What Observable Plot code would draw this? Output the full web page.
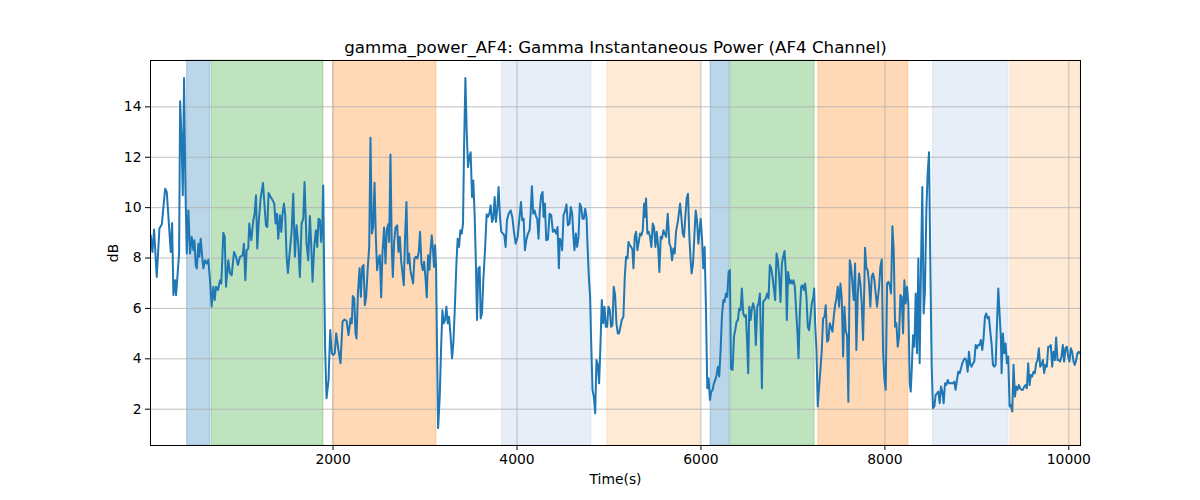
<!DOCTYPE html>
<html><head><meta charset="utf-8">
<script src="https://cdn.jsdelivr.net/npm/d3@7"></script>
<script src="https://cdn.jsdelivr.net/npm/@observablehq/plot@0.6"></script>
<style>body{margin:0;background:#fff} svg{font-family:"DejaVu Sans";}</style>
</head><body><div id="chart"></div>
<script>
const titleText = "gamma_power_AF4: Gamma Instantaneous Power (AF4 Channel)";
const xLabel = "Time(s)";
const yLabel = "dB";
const xTicks = [2000, 4000, 6000, 8000, 10000];
const yTicks = [2, 4, 6, 8, 10, 12, 14];
const xDomain = [15, 10127];
const yDomain = [0.56, 15.84];
const spanStarts = [413, 682, 2000, 3837, 4983, 6105, 6323, 7276, 8522, 9366];
const spanEnds = [667, 1896, 3124, 4809, 5993, 6312, 7236, 8255, 9345, 10127];
const spanKinds = ["blue", "green", "orange", "lightblue", "lightorange", "blue", "green", "orange", "lightblue", "lightorange"];
// [time (s), power (dB)]
const gammaSeries = [
[18,8.90],[36,8.24],[54,9.13],[83,7.25],[112,9.17],[138,9.34],[174,10.75],[192,10.62],[235,8.24],[250,9.39],[264,6.53],[282,7.12],[293,6.53],[326,8.18],[337,14.22],[351,12.93],[366,10.49],[380,15.15],[394,10.95],[409,8.18],[427,9.89],[445,8.18],[463,8.84],[481,8.31],[492,8.71],[507,7.72],[518,7.59],[536,8.57],[546,8.05],[561,8.77],[579,7.98],[590,7.59],[608,7.91],[626,7.78],[644,7.94],[662,7.12],[680,6.07],[698,6.86],[713,6.33],[727,6.86],[749,6.73],[771,7.12],[785,6.99],[807,9.0],[822,8.84],[836,6.86],[861,7.91],[879,7.39],[898,7.32],[923,8.24],[945,8.05],[966,7.72],[988,8.05],[1017,8.11],[1031,8.57],[1046,7.12],[1060,8.31],[1078,8.38],[1089,9.37],[1111,8.71],[1133,9.5],[1147,9.76],[1162,10.49],[1176,8.38],[1191,9.37],[1212,10.36],[1238,10.98],[1256,10.03],[1270,9.3],[1285,9.23],[1299,10.58],[1321,10.42],[1343,10.29],[1361,10.16],[1375,9.37],[1390,9.76],[1404,8.77],[1422,9.7],[1437,9.04],[1451,9.76],[1466,10.16],[1480,9.7],[1495,8.05],[1509,7.41],[1524,8.05],[1549,9.04],[1567,10.55],[1585,8.05],[1603,9.3],[1621,8.57],[1639,7.25],[1658,9.37],[1676,9.56],[1690,11.02],[1712,8.57],[1730,7.91],[1748,9.67],[1762,8.57],[1777,7.06],[1795,8.44],[1813,9.1],[1828,8.44],[1842,9.56],[1857,9.5],[1871,8.64],[1882,9.23],[1893,10.88],[1904,7.12],[1914,4.35],[1929,2.44],[1951,3.16],[1969,5.14],[1987,4.22],[2001,4.15],[2019,4.22],[2034,5.01],[2056,4.42],
[2081,3.82],[2103,5.47],[2125,5.56],[2147,5.51],[2168,4.94],[2190,5.60],[2204,5.41],[2215,6.49],[2230,6.40],[2244,5.01],[2255,4.81],[2270,6.59],[2288,7.59],[2302,6.46],[2317,7.65],[2331,7.72],[2346,6.13],[2360,6.46],[2378,7.65],[2393,8.44],[2407,12.77],[2422,8.97],[2436,9.23],[2451,10.99],[2465,8.84],[2479,7.52],[2494,7.98],[2508,8.11],[2523,6.44],[2537,8.18],[2555,9.21],[2570,7.78],[2584,9.10],[2599,9.34],[2610,8.64],[2624,12.11],[2639,8.31],[2650,7.25],[2664,8.64],[2679,9.21],[2697,9.30],[2711,8.24],[2726,8.84],[2740,7.91],[2755,7.39],[2769,6.92],[2783,8.84],[2798,10.22],[2812,7.78],[2827,8.18],[2841,7.52],[2856,7.25],[2870,6.99],[2885,7.98],[2899,8.05],[2917,7.98],[2932,8.24],[2946,9.04],[2961,7.78],[2975,7.52],[2990,7.85],[3004,7.25],[3019,6.44],[3033,8.11],[3048,7.54],[3058,8.18],[3073,8.90],[3087,8.31],[3098,7.65],[3109,8.51],[3120,7.65],[3131,4.35],[3142,1.25],[3160,2.50],[3174,4.35],[3189,5.93],[3203,5.41],[3218,5.54],[3232,6.07],[3247,5.41],[3261,5.67],[3276,5.01],[3294,4.02],[3308,4.61],[3326,6.20],[3341,7.78],[3355,8.77],[3370,8.44],[3384,9.10],[3399,8.97],[3413,9.37],[3424,12.27],[3439,15.15],[3453,13.06],[3467,11.61],[3482,12.01],[3496,12.20],[3511,10.42],[3525,11.08],[3540,9.63],[3554,7.65],[3565,5.54],[3580,7.59],[3594,7.65],[3605,5.60],[3619,5.80],[3634,7.12],[3652,8.31],[3670,9.74],[3685,9.63],[3699,9.76],[3714,10.09],[3728,9.43],[3742,9.56],[3757,10.42],[3771,9.43],[3786,9.96],[3800,10.82],[3815,9.63],[3829,9.04],[3848,8.97],[3862,8.90],[3876,8.44],[3891,9.50],[3909,9.76],[3931,9.89],[3949,9.63],[3967,9.04],[3985,8.57],[4007,8.84],
[4028,9.63],[4043,10.22],[4057,9.50],[4072,9.56],[4086,8.31],[4101,8.71],[4119,8.97],[4137,9.10],[4148,9.76],[4162,10.85],[4177,9.76],[4191,9.89],[4209,9.63],[4220,9.56],[4234,8.77],[4249,9.96],[4263,10.49],[4278,10.62],[4289,9.63],[4303,10.16],[4318,8.71],[4336,8.73],[4354,9.76],[4372,9.70],[4390,9.04],[4408,9.13],[4426,8.97],[4441,9.23],[4455,7.59],[4466,8.77],[4481,8.64],[4491,8.31],[4506,9.70],[4524,9.89],[4538,10.13],[4553,9.30],[4571,9.37],[4585,10.03],[4600,9.76],[4614,8.84],[4625,8.31],[4640,8.97],[4654,8.44],[4669,8.84],[4683,10.16],[4698,10.03],[4712,9.56],[4727,9.56],[4741,9.96],[4756,9.63],[4766,8.57],[4781,7.25],[4795,6.46],[4806,4.75],[4821,2.77],[4835,2.50],[4850,1.84],[4864,3.95],[4879,3.76],[4893,3.03],[4908,4.61],[4922,6.33],[4937,5.41],[4951,6.07],[4966,5.27],[4980,5.27],[4994,6.07],[5009,5.93],[5023,5.27],[5038,5.34],[5052,6.86],[5067,6.53],[5081,5.41],[5096,5.01],[5110,5.01],[5125,5.27],[5139,5.54],[5157,5.67],[5172,7.25],[5186,8.05],[5201,7.98],[5212,8.64],[5226,8.51],[5241,8.44],[5255,8.34],[5266,7.59],[5280,8.84],[5295,9.04],[5309,8.31],[5324,8.64],[5338,8.97],[5353,8.90],[5367,9.10],[5382,10.16],[5393,9.63],[5403,10.36],[5418,8.97],[5432,9.04],[5447,8.84],[5461,8.44],[5476,9.37],[5490,9.23],[5505,8.44],[5519,9.04],[5534,8.51],[5548,7.45],[5563,8.84],[5577,8.77],[5592,9.10],[5606,8.97],[5621,8.84],[5639,9.76],[5657,8.57],[5671,8.44],[5686,7.91],[5700,8.38],[5715,8.18],[5729,9.04],[5751,9.50],[5773,10.16],[5787,9.63],[5802,8.97],[5816,8.84],[5830,9.63],[5845,10.36],[5859,10.55],[5874,8.84],[5888,7.91],[5899,7.39],[5914,7.78],[5928,8.84],[5943,9.89],[5957,9.50],[5972,8.57],
[5997,9.56],[6011,8.84],[6026,7.59],[6040,8.44],[6055,5.93],[6069,2.83],[6083,3.23],[6098,2.37],[6112,2.70],[6127,2.77],[6141,3.03],[6156,3.16],[6170,3.36],[6185,3.69],[6199,3.30],[6214,4.35],[6228,5.67],[6243,6.33],[6257,6.26],[6272,6.59],[6286,6.46],[6301,7.45],[6315,7.52],[6326,3.62],[6344,3.56],[6359,4.88],[6373,5.14],[6387,5.47],[6402,5.54],[6416,6.00],[6431,5.93],[6445,6.79],[6460,5.80],[6474,5.67],[6489,5.74],[6503,4.61],[6514,3.43],[6525,6.07],[6540,5.54],[6554,6.00],[6568,6.20],[6583,5.93],[6597,4.55],[6612,6.07],[6626,6.20],[6641,6.59],[6655,4.35],[6663,2.83],[6677,6.26],[6691,6.33],[6706,6.40],[6720,6.59],[6735,6.40],[6749,7.72],[6764,7.59],[6778,7.25],[6793,6.79],[6807,6.33],[6822,8.18],[6836,7.91],[6851,7.25],[6865,6.26],[6880,7.78],[6894,8.05],[6909,8.28],[6923,7.45],[6934,5.54],[6948,7.45],[6963,6.99],[6977,7.12],[6992,6.99],[7006,7.12],[7021,6.86],[7035,5.93],[7050,5.01],[7061,4.02],[7075,5.80],[7090,6.86],[7104,6.92],[7119,6.73],[7133,6.99],[7147,6.46],[7162,5.27],[7176,5.14],[7191,5.67],[7205,6.20],[7220,6.40],[7231,6.79],[7242,5.41],[7256,4.35],[7270,2.11],[7285,2.90],[7299,3.56],[7314,4.35],[7328,5.60],[7343,5.67],[7357,6.13],[7372,4.68],[7386,4.75],[7401,5.41],[7415,5.27],[7430,5.08],[7444,5.67],[7459,6.13],[7473,6.40],[7488,6.86],[7502,6.07],[7517,6.99],[7531,6.40],[7546,4.09],[7560,6.07],[7575,5.08],[7589,4.94],[7603,2.30],[7618,7.91],[7632,7.65],[7647,6.99],[7661,6.33],[7676,7.78],[7690,4.35],[7705,6.53],[7719,7.39],[7734,6.99],[7748,6.20],[7763,4.75],[7777,6.99],[7784,8.41],[7799,7.59],[7813,7.52],[7828,6.99],[7842,6.07],[7857,7.25],[7871,7.39],[7886,7.12],[7900,6.59],[7915,6.07],
[7937,6.86],[7951,7.65],[7966,7.94],[7980,4.35],[7995,3.16],[8009,2.77],[8024,6.99],[8038,7.06],[8053,6.92],[8067,6.59],[8082,9.26],[8096,8.31],[8111,5.27],[8125,5.41],[8140,4.48],[8154,4.88],[8169,6.53],[8183,6.46],[8198,5.01],[8212,7.12],[8227,6.20],[8241,6.86],[8255,6.20],[8270,3.03],[8281,2.70],[8292,3.56],[8306,4.94],[8321,4.48],[8335,6.59],[8350,4.22],[8364,7.98],[8378,3.82],[8393,7.78],[8407,10.82],[8422,5.80],[8436,6.73],[8451,9.89],[8465,11.35],[8480,12.20],[8494,7.78],[8509,3.69],[8523,2.04],[8538,2.11],[8552,2.57],[8567,2.63],[8581,2.70],[8596,2.24],[8610,2.90],[8625,2.70],[8639,2.24],[8654,3.03],[8668,2.96],[8683,3.16],[8697,3.03],[8711,3.03],[8726,3.03],[8740,3.03],[8755,3.10],[8769,2.77],[8784,3.16],[8798,3.49],[8813,3.43],[8827,3.62],[8842,3.82],[8856,3.95],[8871,4.02],[8885,3.95],[8900,3.49],[8914,4.28],[8929,3.76],[8943,3.69],[8958,3.82],[8972,3.89],[8987,4.55],[9001,4.42],[9015,4.55],[9030,4.55],[9044,4.75],[9059,4.35],[9073,4.81],[9088,5.67],[9102,5.80],[9117,5.60],[9131,5.67],[9146,5.08],[9160,4.61],[9175,3.76],[9189,3.69],[9204,3.76],[9218,5.27],[9233,6.79],[9247,5.80],[9262,4.75],[9269,3.43],[9283,5.01],[9298,4.22],[9312,4.61],[9327,3.82],[9341,4.09],[9356,2.11],[9370,2.17],[9385,1.91],[9399,3.76],[9414,2.50],[9428,2.90],[9443,2.77],[9457,2.96],[9471,2.83],[9486,2.77],[9500,2.77],[9515,2.90],[9529,2.96],[9544,2.83],[9558,3.82],[9573,2.96],[9587,3.36],[9602,3.30],[9616,3.49],[9631,3.43],[9645,3.82],[9660,3.95],[9674,4.42],[9689,3.69],[9703,3.76],[9718,3.95],[9732,3.43],[9747,3.76],[9761,3.69],[9776,4.48],[9790,4.48],[9804,4.55],[9819,3.69],[9833,4.28],[9848,3.95],[9862,4.85],[9877,3.95],[9891,3.95],[9906,3.89],[9920,4.09],[9935,4.55],[9949,3.89],[9964,4.42],[9978,4.48],[9993,4.09],[10007,3.89],[10022,4.42],[10036,4.28],[10051,3.89],[10065,3.76],[10080,3.95],[10094,4.22],[10109,4.28],[10125,4.20]
];

const spans = spanStarts.map((s, i) => ({x1: s, x2: spanEnds[i], kind: spanKinds[i]}));
const points = gammaSeries.map(([t, v]) => ({t, v}));
const kindColor = {blue: "#1f77b4", green: "#2ca02c", orange: "#ff7f0e", lightblue: "#aec7e8", lightorange: "#ffbb78"};

const chart = Plot.plot({
  width: 1200,
  height: 500,
  marginLeft: 150,
  marginRight: 120,
  marginTop: 60,
  marginBottom: 55,
  style: {fontFamily: "DejaVu Sans", fontSize: "13.9px", background: "white", color: "black"},
  x: {domain: xDomain},
  y: {domain: yDomain},
  marks: [
    Plot.rect(spans, {x1: "x1", x2: "x2", fill: d => kindColor[d.kind], fillOpacity: 0.3, stroke: d => kindColor[d.kind], strokeOpacity: 0.3, strokeWidth: 1}),
    Plot.gridX(xTicks, {stroke: "#b0b0b0", strokeOpacity: 1, strokeWidth: 0.8}),
    Plot.gridY(yTicks, {stroke: "#b0b0b0", strokeOpacity: 1, strokeWidth: 0.8}),
    Plot.line(points, {x: "t", y: "v", stroke: "#1f77b4", strokeWidth: 2}),
    Plot.frame({stroke: "black", strokeWidth: 1}),
    Plot.axisX(xTicks, {tickFormat: d3.format("d"), label: xLabel, labelAnchor: "center", labelArrow: "none", labelOffset: 38, tickSize: 5, tickPadding: 4, fontSize: 13.9}),
    Plot.axisY(yTicks, {tickFormat: d3.format("d"), label: yLabel, labelAnchor: "center", labelArrow: "none", labelOffset: 42, tickSize: 5, tickPadding: 4, fontSize: 13.9}),
    Plot.text([titleText], {frameAnchor: "top", lineAnchor: "middle", dy: -13, fontSize: 16.67, fill: "black"})
  ]
});
document.getElementById("chart").appendChild(chart);
</script>
</body></html>
